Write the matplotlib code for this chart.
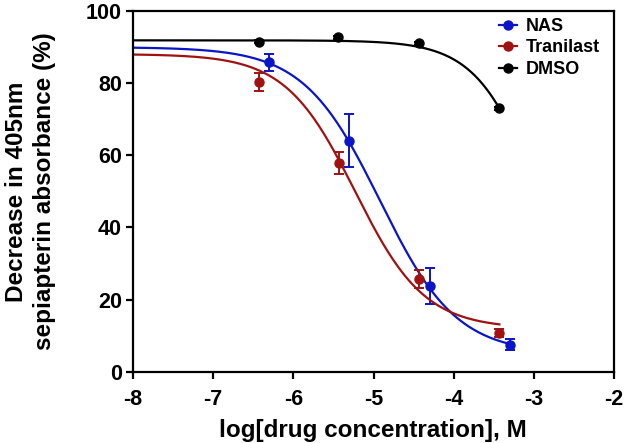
import numpy as np
import matplotlib.pyplot as plt

plt.rcParams['font.family'] = ['Liberation Sans', 'DejaVu Sans']
plt.rcParams['font.weight'] = 'bold'
plt.rcParams['axes.unicode_minus'] = False

# Data
nas_x = [-6.30, -5.31, -4.30, -3.30]
nas_y = [85.7, 64.0, 23.7, 7.6]
nas_err = [2.4, 7.3, 5.0, 1.5]

tran_x = [-6.43, -5.43, -4.43, -3.43]
tran_y = [80.3, 57.9, 25.7, 10.8]
tran_err = [2.5, 3.0, 2.5, 1.2]

dmso_x = [-6.43, -5.44, -4.43, -3.43]
dmso_y = [91.4, 92.6, 91.0, 73.0]
dmso_err = [0.4, 0.4, 0.4, 0.4]

# 4PL fit parameters: top, bottom, logEC50, hill
nas_fit = (89.9, 5.0, -4.92, 0.91)
tran_fit = (88.0, 12.0, -5.23, 1.0)
dmso_fit = (91.8, 0.0, -2.895, 1.1)


def four_pl(x, top, bottom, logec50, hill):
    return bottom + (top - bottom) / (1 + 10 ** ((x - logec50) * hill))


fig = plt.figure(figsize=(6.25, 4.43), dpi=100)
ax = fig.add_axes([0.2128, 0.1603, 0.7696, 0.8155])

series = [
    ('NAS', nas_x, nas_y, nas_err, nas_fit, '#0a14c8'),
    ('Tranilast', tran_x, tran_y, tran_err, tran_fit, '#a01212'),
    ('DMSO', dmso_x, dmso_y, dmso_err, dmso_fit, 'black'),
]

for name, x, y, err, fit, col in series:
    xs = np.linspace(-8, max(x), 300)
    ax.plot(xs, four_pl(xs, *fit), color=col, lw=1.6)
    ax.errorbar(x, y, yerr=err, fmt='o', color=col, ms=6.5, capsize=3.5,
                elinewidth=1.4, capthick=1.4)
    ax.plot([], [], marker='o', color=col, ms=6.5, lw=1.6, label=name)

ax.set_xlim(-8, -2)
ax.set_ylim(0, 100)
ax.set_xticks(range(-8, -1))
ax.set_yticks(range(0, 101, 20))
for s in ax.spines.values():
    s.set_linewidth(1.6)
ax.tick_params(width=1.6, length=5, labelsize=15.5)
ax.tick_params(axis='x', pad=7)
ax.tick_params(axis='y', pad=3)
for lbl in ax.get_xticklabels() + ax.get_yticklabels():
    lbl.set_fontweight('bold')

ax.set_xlabel('log[drug concentration], M', fontsize=17.5, fontweight='bold')
ax.set_ylabel('Decrease in 405nm\nsepiapterin absorbance (%)', fontsize=17.5,
              fontweight='bold', linespacing=1.3)
ax.xaxis.set_label_coords(0.498, -0.13)
ax.yaxis.set_label_coords(-0.16, 0.5)

ax.legend(loc='upper right', frameon=False, fontsize=13, handlelength=1.0,
          handletextpad=0.5, labelspacing=0.25, bbox_to_anchor=(1.005, 1.025))

fig.savefig('out.png', dpi=100)
